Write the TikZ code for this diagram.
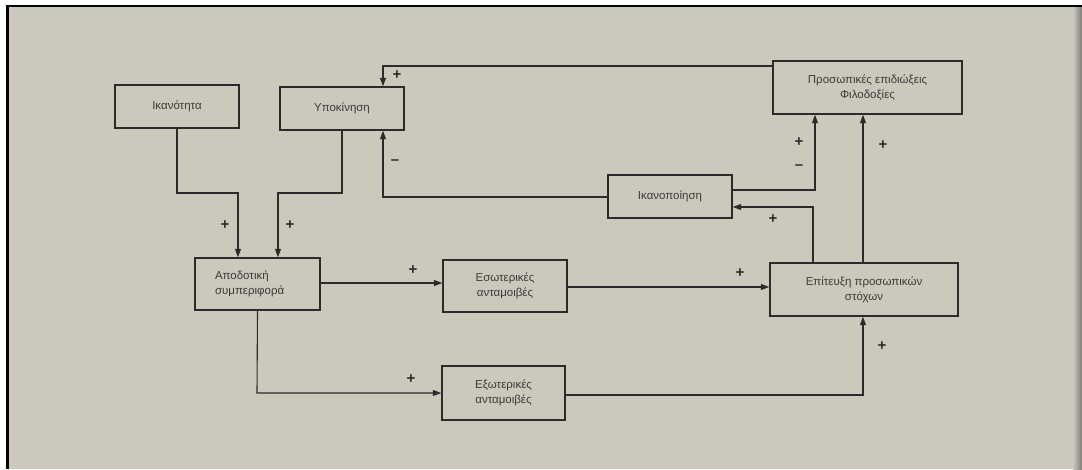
\documentclass[tikz,border=0pt]{standalone}
\usepackage{fontspec}
\setmainfont{Liberation Sans}
\usetikzlibrary{arrows.meta}
\definecolor{paper}{HTML}{CCC9BC}
\definecolor{ink}{HTML}{2B2B2B}
\definecolor{txt}{HTML}{3A3A3A}
\definecolor{edge}{HTML}{7E7D76}
\begin{document}
\begin{tikzpicture}[x=1pt,y=-1pt,
  box/.style={draw=ink,line width=1.4pt,fill=paper,text=txt,
    font=\fontsize{11.5}{15}\selectfont,align=center,inner sep=0pt},
  arr/.style={draw=ink,line width=1.1pt,-{Triangle[length=8.5pt,width=6pt]}},
  sg/.style={font=\bfseries\fontsize{15}{15}\selectfont,text=ink,inner sep=0pt}]
\useasboundingbox (0,0) rectangle (1082,469);
\fill[white] (0,0) rectangle (1082,469);
\fill[paper] (7,6) rectangle (1082,469);
\shade[left color=paper,right color=edge] (1073,6) rectangle (1082,469);
\draw[black,line width=2.5pt] (7.5,469) -- (7.5,6) -- (1082,6);

\node[box,minimum width=124pt,minimum height=43pt] (ikan) at (177,106.5) {Ικανότητα};
\node[box,minimum width=124pt,minimum height=43pt] (ypok) at (342,108.5) {Υποκίνηση};
\node[box,minimum width=189pt,minimum height=53pt] (prosop) at (867.5,87.5) {Προσωπικές επιδιώξεις\\Φιλοδοξίες};
\node[box,minimum width=124pt,minimum height=43pt] (ikanop) at (670,196.5) {Ικανοποίηση};
\node[box,minimum width=125pt,minimum height=52pt,text width=85pt,align=left] (apod) at (257.5,284) {Αποδοτική\\συμπεριφορά};
\node[box,minimum width=124pt,minimum height=52pt] (esot) at (505,286) {Εσωτερικές\\ανταμοιβές};
\node[box,minimum width=188pt,minimum height=53pt] (epit) at (864,289.5) {Επίτευξη προσωπικών\\στόχων};
\node[box,minimum width=123pt,minimum height=54pt] (exot) at (503.5,393) {Εξωτερικές\\ανταμοιβές};

\coordinate (k1) at (177,193); \coordinate (k2) at (238,193);
\draw[arr] (ikan.south) -- (k1) -- (k2) -- (k2 |- apod.north);
\coordinate (y1) at (342,193); \coordinate (y2) at (278,193);
\draw[arr] (ypok.south) -- (y1) -- (y2) -- (y2 |- apod.north);
\coordinate (p1) at (383,66);
\draw[arr] (p1 -| prosop.west) -- (p1) -- (p1 |- ypok.north);
\coordinate (s1) at (383,197);
\draw[arr] (s1 -| ikanop.west) -- (s1) -- (s1 |- ypok.south);
\coordinate (s2) at (815,190);
\draw[arr] (s2 -| ikanop.east) -- (s2) -- (s2 |- prosop.south);
\coordinate (e1) at (813,207);
\draw[arr] (e1 |- epit.north) -- (e1) -- (e1 -| ikanop.east);
\coordinate (e2) at (863,200);
\draw[arr] (e2 |- epit.north) -- (e2 |- prosop.south);
\coordinate (a1) at (400,283);
\draw[arr] (a1 -| apod.east) -- (a1 -| esot.west);
\coordinate (a2) at (600,287);
\draw[arr] (a2 -| esot.east) -- (a2 -| epit.west);
\coordinate (a3) at (257,393);
\draw[arr] (apod.south) -- (a3) -- (a3 -| exot.west);
\coordinate (x1) at (863,395);
\draw[arr] (x1 -| exot.east) -- (x1) -- (x1 |- epit.south);

\node[sg] (g1) at (225,225) {+};
\node[sg] (g2) at (290,225) {+};
\node[sg] (g3) at (397,75) {+};
\node[sg] (g4) at (395,162) {–};
\node[sg] (g5) at (799,142) {+};
\node[sg] (g6) at (799,167) {–};
\node[sg] (g7) at (773,219) {+};
\node[sg] (g8) at (883,145) {+};
\node[sg] (g9) at (413,270) {+};
\node[sg] (g10) at (740,273) {+};
\node[sg] (g11) at (411,379) {+};
\node[sg] (g12) at (882,346) {+};
\end{tikzpicture}
\end{document}
